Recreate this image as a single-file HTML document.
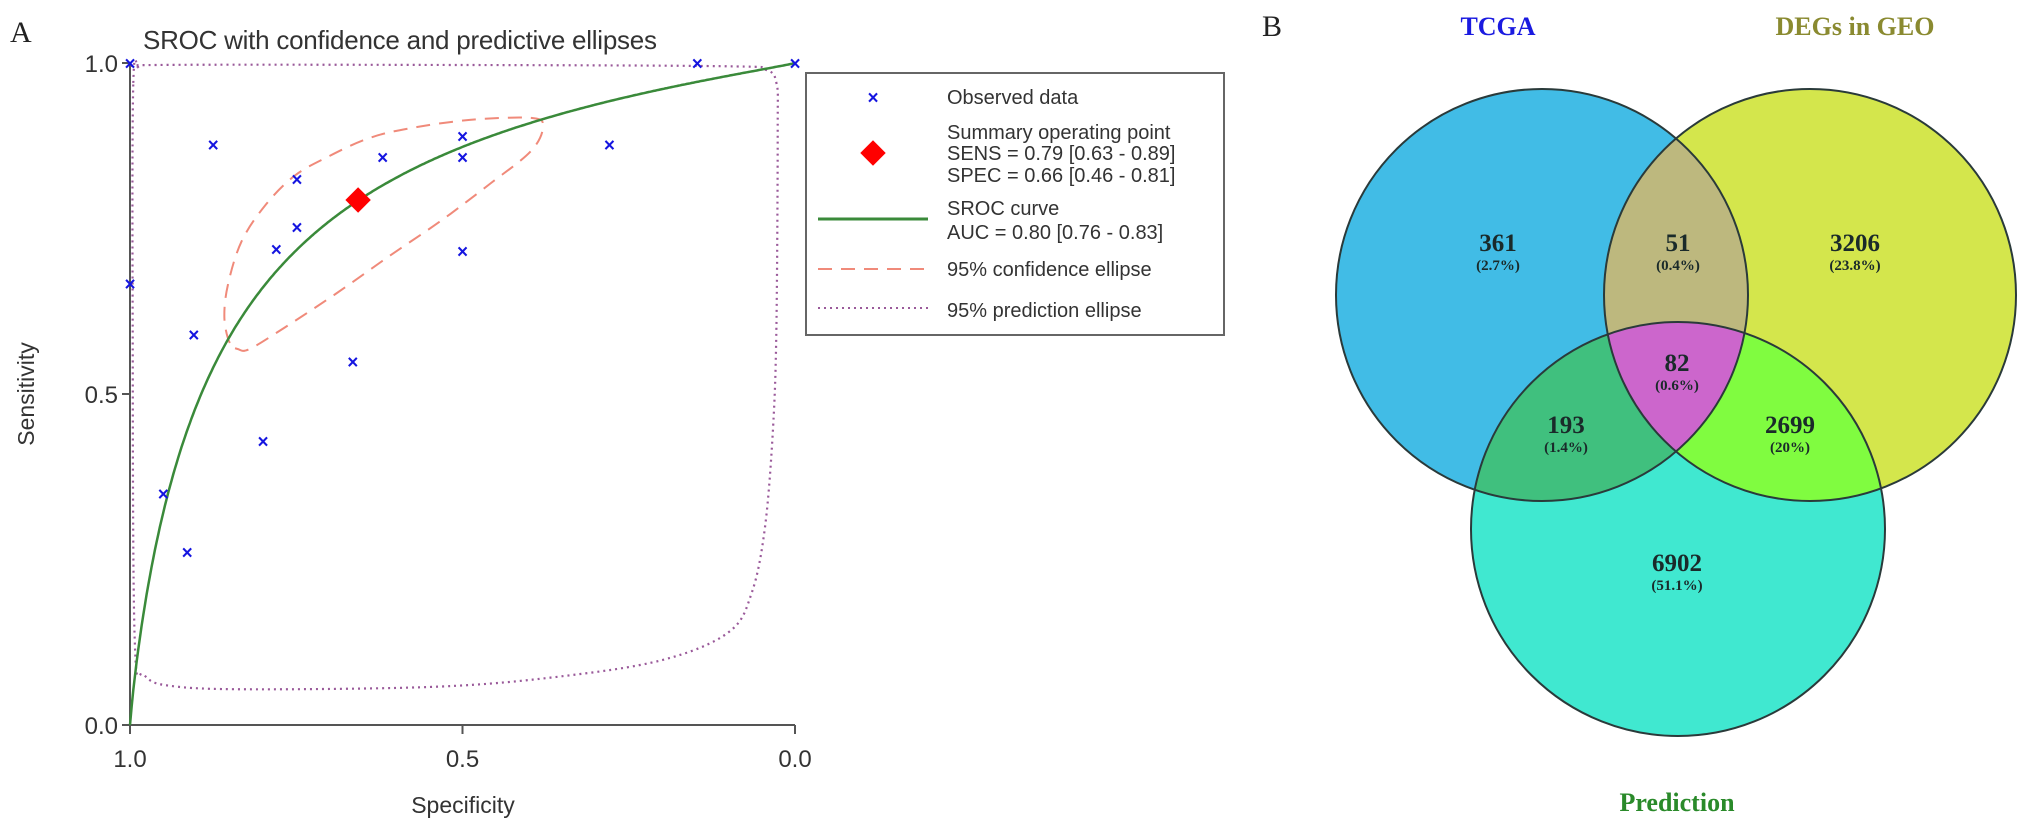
<!DOCTYPE html>
<html><head><meta charset="utf-8">
<style>
html,body{margin:0;padding:0;background:#fff;}
svg{display:block;}
.ax{font-family:"Liberation Sans",Arial,sans-serif;fill:#333;}
.vn{font-family:"Liberation Serif","Times New Roman",serif;font-weight:bold;}
</style></head>
<body>
<svg id="fig" width="2031" height="835" viewBox="0 0 2031 835" xmlns="http://www.w3.org/2000/svg">
  <defs>
    <clipPath id="cT"><circle cx="1542" cy="295" r="206"/></clipPath>
    <clipPath id="cG"><circle cx="1810" cy="295" r="206"/></clipPath>
    <clipPath id="cP"><circle cx="1678" cy="529" r="207"/></clipPath>
  </defs>
  <g id="panelA">
    <text x="10" y="42" font-family="Liberation Serif,serif" font-size="30" fill="#222">A</text>
    <text class="ax" x="143" y="49" font-size="26" textLength="514">SROC with  confidence and predictive ellipses</text>
    <g id="axes"></g>
    <g id="marks"></g>
    <text class="ax" x="34" y="394" font-size="23" text-anchor="middle" transform="rotate(-90 34 394)">Sensitivity</text>
    <text class="ax" x="463" y="813" font-size="23" text-anchor="middle">Specificity</text>
    <g>
      <rect x="806" y="73" width="418" height="262" fill="#fff" stroke="#666" stroke-width="2"/>
      <g>
        <text x="873" y="104" font-size="19" fill="#1515e0" font-family="Liberation Sans,sans-serif" font-weight="bold" text-anchor="middle">×</text>
        <text class="ax" x="947" y="104" font-size="20">Observed data</text>
      </g>
      <g>
        <rect x="864" y="144" width="18" height="18" fill="#f00" transform="rotate(45 873 153)"/>
        <text class="ax" x="947" y="139" font-size="20">Summary operating point</text>
        <text class="ax" x="947" y="160" font-size="20">SENS = 0.79 [0.63 - 0.89]</text>
        <text class="ax" x="947" y="182" font-size="20">SPEC = 0.66 [0.46 - 0.81]</text>
      </g>
      <g>
        <line x1="818" y1="219" x2="928" y2="219" stroke="#3a8a3a" stroke-width="3"/>
        <text class="ax" x="947" y="215" font-size="20">SROC curve</text>
        <text class="ax" x="947" y="239" font-size="20">AUC = 0.80 [0.76 - 0.83]</text>
      </g>
      <g>
        <line x1="818" y1="269" x2="928" y2="269" stroke="#f08a7a" stroke-width="2" stroke-dasharray="14,9"/>
        <text class="ax" x="947" y="276" font-size="20">95% confidence ellipse</text>
      </g>
      <g>
        <line x1="818" y1="308" x2="928" y2="308" stroke="#9a5a9a" stroke-width="2" stroke-dasharray="2,4"/>
        <text class="ax" x="947" y="317" font-size="20">95% prediction ellipse</text>
      </g>
    </g>
  </g>
  <g id="panelB">
    <text x="1262" y="36" font-family="Liberation Serif,serif" font-size="30" fill="#222">B</text>
    <circle cx="1542" cy="295" r="206" fill="#41bce6"/>
    <circle cx="1810" cy="295" r="206" fill="#d4e64c"/>
    <circle cx="1678" cy="529" r="207" fill="#40e8d0"/>
    <g clip-path="url(#cT)"><circle cx="1810" cy="295" r="206" fill="#bdb87e"/></g>
    <g clip-path="url(#cT)"><circle cx="1678" cy="529" r="207" fill="#40c07e"/></g>
    <g clip-path="url(#cG)"><circle cx="1678" cy="529" r="207" fill="#80fc40"/></g>
    <g clip-path="url(#cT)"><g clip-path="url(#cG)"><circle cx="1678" cy="529" r="207" fill="#cc66cc"/></g></g>
    <g fill="none" stroke="#2a3a3a" stroke-width="2">
      <circle cx="1542" cy="295" r="206"/>
      <circle cx="1810" cy="295" r="206"/>
      <circle cx="1678" cy="529" r="207"/>
    </g>
    <text class="vn" x="1498" y="35" font-size="26" fill="#1a1ae0" text-anchor="middle">TCGA</text>
    <text class="vn" x="1855" y="35" font-size="26" fill="#8a8a30" text-anchor="middle">DEGs in GEO</text>
    <text class="vn" x="1677" y="811" font-size="26" fill="#2a8a2a" text-anchor="middle">Prediction</text>
    <g id="counts" class="vn" fill="#1a2a2a" text-anchor="middle"></g>
  </g>
</svg>
<script>
const NS='http://www.w3.org/2000/svg';
// observed studies: specificity, sensitivity
const obsSpec=[1.0,0.147,0.0,0.875,0.749,0.620,0.5,0.5,0.279,0.749,0.780,0.5,1.0,0.904,0.665,0.800,0.950,0.914];
const obsSens=[1.0,1.0,1.0,0.877,0.825,0.858,0.890,0.858,0.877,0.752,0.719,0.716,0.667,0.590,0.549,0.429,0.350,0.261];
const summarySpec=0.657, summarySens=0.793;
const srocA=1.93, srocB=0.91;
const confSpec=[0.850,0.858,0.853,0.832,0.795,0.752,0.703,0.642,0.581,0.489,0.397,0.379,0.397,0.458,0.532,0.612,0.691,0.765,0.820,0.838];
const confSens=[0.577,0.614,0.664,0.731,0.787,0.830,0.858,0.886,0.901,0.914,0.917,0.904,0.867,0.818,0.762,0.707,0.651,0.602,0.568,0.568];
const predSpec=[0.995,0.985,0.96,0.5,0.10,0.045,0.028,0.026,0.028,0.033,0.045,0.065,0.10,0.2,0.356,0.535,0.80,0.93,0.978,0.993,0.996];
const predSens=[0.97,0.992,0.997,0.997,0.995,0.99,0.97,0.9,0.6,0.45,0.30,0.20,0.14,0.098,0.073,0.058,0.054,0.058,0.075,0.13,0.6];
const xTicks=[1.0,0.5,0.0], xTickLabels=['1.0','0.5','0.0'];
const yTicks=[0.0,0.5,1.0], yTickLabels=['0.0','0.5','1.0'];
const vennCounts=['361','51','3206','82','193','2699','6902'];
const vennPcts=['(2.7%)','(0.4%)','(23.8%)','(0.6%)','(1.4%)','(20%)','(51.1%)'];
const vennRegions=['tcga-only','tcga-geo','geo-only','all-three','tcga-prediction','geo-prediction','prediction-only'];

const X0=130,X1=795,Y0=725,Y1=63;
function sx(spec){return X1+(X0-X1)*spec;}
function sy(sens){return Y0+(Y1-Y0)*sens;}
function mk(tag,attrs,parent){const e=document.createElementNS(NS,tag);for(const k in attrs)e.setAttribute(k,attrs[k]);parent.appendChild(e);return e;}

const axes=document.getElementById('axes');
const a1=mk('line',{x1:X0,y1:Y1,x2:X0,y2:Y0+1,stroke:'#555','stroke-width':2},axes);


const a2=mk('line',{x1:X0-8,y1:Y0,x2:X1,y2:Y0,stroke:'#555','stroke-width':2},axes);


xTicks.forEach((v,i)=>{
  mk('line',{x1:sx(v),y1:Y0,x2:sx(v),y2:Y0+9,stroke:'#555','stroke-width':2},axes);
  const t=mk('text',{x:sx(v),y:Y0+42,'font-size':24,'text-anchor':'middle',class:'ax'},axes);
  t.textContent=xTickLabels[i];
  
  
});
yTicks.forEach((v,i)=>{
  mk('line',{x1:X0-8,y1:sy(v),x2:X0,y2:sy(v),stroke:'#555','stroke-width':2},axes);
  const t=mk('text',{x:X0-12,y:sy(v)+9,'font-size':24,'text-anchor':'end',class:'ax'},axes);
  t.textContent=yTickLabels[i];
  
  
});

const marks=document.getElementById('marks');
function smoothClosed(sp,se){
  const P=sp.map((s,i)=>[sx(s),sy(se[i])]);const n=P.length;
  let d='M'+P[0][0].toFixed(1)+','+P[0][1].toFixed(1);
  for(let i=0;i<n;i++){
    const p0=P[(i-1+n)%n],p1=P[i],p2=P[(i+1)%n],p3=P[(i+2)%n];
    const c1=[p1[0]+(p2[0]-p0[0])/6,p1[1]+(p2[1]-p0[1])/6];
    const c2=[p2[0]-(p3[0]-p1[0])/6,p2[1]-(p3[1]-p1[1])/6];
    d+='C'+c1[0].toFixed(1)+','+c1[1].toFixed(1)+' '+c2[0].toFixed(1)+','+c2[1].toFixed(1)+' '+p2[0].toFixed(1)+','+p2[1].toFixed(1);
  }
  return d+'Z';
}
const pe=mk('path',{d:smoothClosed(predSpec,predSens),fill:'none',stroke:'#9a5a9a','stroke-width':2.2,'stroke-dasharray':'2,4','stroke-linejoin':'round'},marks);


const ce=mk('path',{d:smoothClosed(confSpec,confSens),fill:'none',stroke:'#f08a7a','stroke-width':2,'stroke-dasharray':'14,9','stroke-linejoin':'round'},marks);


// SROC model curve
let d='M'+sx(1)+','+sy(0);
for(let k=1;k<400;k++){const f=k/400;const lg=Math.log(f/(1-f));const s=1/(1+Math.exp(-(srocA+srocB*lg)));d+='L'+sx(1-f).toFixed(1)+','+sy(s).toFixed(1);}
d+='L'+sx(0)+','+sy(1);
const sc=mk('path',{d:d,fill:'none',stroke:'#3a8a3a','stroke-width':2.5},marks);


obsSpec.forEach((v,i)=>{
  const t=mk('text',{x:sx(v),y:sy(obsSens[i])+7,'font-size':19,'font-weight':'bold',fill:'#1515e0','text-anchor':'middle','font-family':'Liberation Sans,sans-serif'},marks);
  t.textContent='×';
  
  
});
const sp=mk('rect',{x:sx(summarySpec)-9,y:sy(summarySens)-9,width:18,height:18,fill:'#f00',transform:'rotate(45 '+sx(summarySpec)+' '+sy(summarySens)+')'},marks);



const counts=document.getElementById('counts');
const cx=[1498,1678,1855,1677,1566,1790,1677], cy=[243,243,243,363,425,425,563];
vennCounts.forEach((c,i)=>{
  const t=mk('text',{x:cx[i],y:cy[i]+8,'font-size':25},counts);
  t.textContent=c;
  
  
  const p=mk('text',{x:cx[i],y:cy[i]+27,'font-size':15},counts);
  p.textContent=vennPcts[i];
  
  
});
</script>
</body></html>
